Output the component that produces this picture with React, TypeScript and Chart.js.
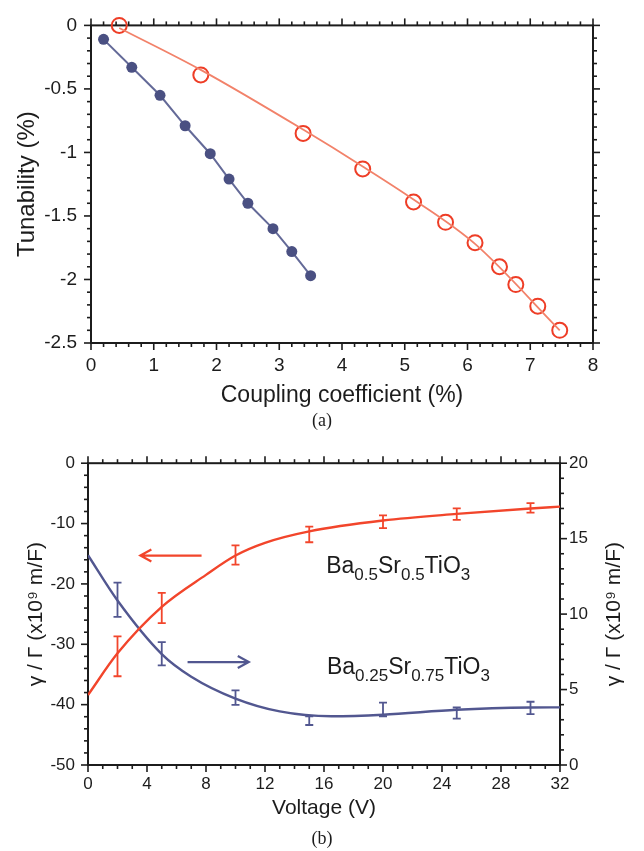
import React, { useEffect, useRef } from 'react';
import { Chart, registerables } from 'chart.js';

Chart.register(...registerables);

// ---------- Panel (a): Tunability vs coupling coefficient ----------
const blueCoupling = [0.2, 0.65, 1.1, 1.5, 1.9, 2.2, 2.5, 2.9, 3.2, 3.5];
const blueTunability = [-0.11, -0.33, -0.55, -0.79, -1.01, -1.21, -1.4, -1.6, -1.78, -1.97];
const redCoupling = [0.45, 1.75, 3.38, 4.33, 5.14, 5.65, 6.12, 6.51, 6.77, 7.12, 7.47];
const redTunability = [0, -0.39, -0.85, -1.13, -1.39, -1.55, -1.71, -1.9, -2.04, -2.21, -2.4];
const redFitCoupling = [0.45, 1.75, 3.38, 4.33, 5.14, 6.12, 7.47];
const redFitTunability = [-0.02, -0.35, -0.82, -1.11, -1.37, -1.72, -2.4];

// ---------- Panel (b): gamma/Gamma vs voltage ----------
const voltage = [2, 5, 10, 15, 20, 25, 30];
const bst50 = [-32.0, -24.0, -15.2, -11.8, -9.7, -8.45, -7.4];
const bst50Err = [3.3, 2.5, 1.6, 1.3, 1.05, 0.95, 0.8];
const bst25 = [10.95, 7.37, 4.46, 2.94, 3.68, 3.44, 3.78];
const bst25Err = [1.13, 0.77, 0.48, 0.29, 0.45, 0.37, 0.41];
const bst50FitV = [0, 2, 5, 8, 10, 12, 15, 20, 25, 30, 32];
const bst50Fit = [-38.4, -31.5, -23.8, -18.5, -15.3, -13.2, -11.3, -9.5, -8.4, -7.5, -7.2];
const bst25FitV = [0, 2, 5, 7, 10, 13, 16.5, 20, 25, 30, 32];
const bst25Fit = [13.9, 10.9, 7.35, 5.85, 4.4, 3.55, 3.23, 3.33, 3.66, 3.81, 3.82];

const FONT = "'Liberation Sans', Arial, Helvetica, sans-serif";
const INK = '#1c1c1c';
const RED_A = '#ee3d26';
const RED_A_LINE = '#f2826a';
const BLUE_A = '#4a5082';
const BLUE_A_LINE = '#646a98';
const RED_B = '#f2452b';
const BLUE_B = '#525790';
const Y_TITLE_B = 'γ / Γ (x10⁹ m/F)';

const pts = (xs: number[], ys: number[]) => xs.map((x, i) => ({ x, y: ys[i] }));
const fmt = (v: any) => String(+Number(v).toFixed(2));

type Side = 'bottom' | 'top' | 'left' | 'right';
type TickSpec = { scaleId: string; major: number; minor: number; sides: Side[] };

function framePlugin(specs: TickSpec[]) {
  return {
    id: 'frameTicks',
    beforeDatasetsDraw(chart: any) {
      const { ctx, chartArea: a } = chart;
      ctx.save();
      ctx.strokeStyle = INK;
      ctx.lineWidth = 2;
      ctx.strokeRect(a.left, a.top, a.right - a.left, a.bottom - a.top);
      ctx.lineWidth = 1.6;
      for (const s of specs) {
        const sc = chart.scales[s.scaleId];
        const n = Math.round((sc.max - sc.min) / s.minor);
        for (let i = 0; i <= n; i++) {
          const v = sc.min + i * s.minor;
          const r = v / s.major;
          const isMajor = Math.abs(r - Math.round(r)) < 1e-6;
          const len = isMajor ? 7 : 4;
          const p = sc.getPixelForValue(v);
          for (const side of s.sides) {
            ctx.beginPath();
            if (side === 'bottom') { ctx.moveTo(p, a.bottom); ctx.lineTo(p, a.bottom + len); }
            if (side === 'top') { ctx.moveTo(p, a.top); ctx.lineTo(p, a.top - len); }
            if (side === 'left') { ctx.moveTo(a.left, p); ctx.lineTo(a.left - len, p); }
            if (side === 'right') { ctx.moveTo(a.right, p); ctx.lineTo(a.right + len, p); }
            ctx.stroke();
          }
        }
      }
      ctx.restore();
    },
  };
}

type ErrSeries = { xs: number[]; ys: number[]; errs: number[]; yId: string; color: string };

function errorBarPlugin(series: ErrSeries[]) {
  return {
    id: 'errorBars',
    afterDatasetsDraw(chart: any) {
      const { ctx } = chart;
      const xs = chart.scales.x;
      ctx.save();
      for (const s of series) {
        const ys = chart.scales[s.yId];
        ctx.strokeStyle = s.color;
        ctx.lineWidth = 1.8;
        s.xs.forEach((xv, i) => {
          const px = xs.getPixelForValue(xv);
          const top = ys.getPixelForValue(s.ys[i] + s.errs[i]);
          const bot = ys.getPixelForValue(s.ys[i] - s.errs[i]);
          ctx.beginPath();
          ctx.moveTo(px, top); ctx.lineTo(px, bot);
          ctx.moveTo(px - 4, top); ctx.lineTo(px + 4, top);
          ctx.moveTo(px - 4, bot); ctx.lineTo(px + 4, bot);
          ctx.stroke();
        });
      }
      ctx.restore();
    },
  };
}

type Seg = { t: string; sub?: boolean };
const formula50: Seg[] = [{ t: 'Ba' }, { t: '0.5', sub: true }, { t: 'Sr' }, { t: '0.5', sub: true }, { t: 'TiO' }, { t: '3', sub: true }];
const formula25: Seg[] = [{ t: 'Ba' }, { t: '0.25', sub: true }, { t: 'Sr' }, { t: '0.75', sub: true }, { t: 'TiO' }, { t: '3', sub: true }];

function annotationPlugin() {
  return {
    id: 'annotationsB',
    afterDraw(chart: any) {
      const { ctx, chartArea: a } = chart;
      const x = chart.scales.x;
      const y = chart.scales.y;
      const y2 = chart.scales.y2;
      ctx.save();
      const arrow = (x0: number, y0: number, x1: number, y1: number, color: string) => {
        ctx.strokeStyle = color;
        ctx.lineWidth = 2.2;
        ctx.beginPath();
        ctx.moveTo(x0, y0); ctx.lineTo(x1, y1);
        const dir = Math.sign(x1 - x0);
        ctx.moveTo(x1 - dir * 11, y1 - 6); ctx.lineTo(x1, y1); ctx.lineTo(x1 - dir * 11, y1 + 6);
        ctx.stroke();
      };
      arrow(x.getPixelForValue(7.7), y.getPixelForValue(-15.3), x.getPixelForValue(3.55), y.getPixelForValue(-15.3), RED_B);
      arrow(x.getPixelForValue(6.75), y2.getPixelForValue(6.82), x.getPixelForValue(10.9), y2.getPixelForValue(6.82), BLUE_B);
      const drawFormula = (segs: Seg[], px: number, py: number) => {
        let cx = px;
        ctx.fillStyle = INK;
        ctx.textBaseline = 'alphabetic';
        ctx.textAlign = 'left';
        for (const s of segs) {
          ctx.font = s.sub ? `17px ${FONT}` : `23px ${FONT}`;
          ctx.fillText(s.t, cx, s.sub ? py + 7 : py);
          cx += ctx.measureText(s.t).width;
        }
      };
      drawFormula(formula50, x.getPixelForValue(16.15), y.getPixelForValue(-18.2));
      drawFormula(formula25, x.getPixelForValue(16.2), y.getPixelForValue(-35.0));
      ctx.translate(614, (a.top + a.bottom) / 2);
      ctx.rotate(-Math.PI / 2);
      ctx.font = `21px ${FONT}`;
      ctx.textAlign = 'center';
      ctx.textBaseline = 'middle';
      ctx.fillStyle = INK;
      ctx.fillText(Y_TITLE_B, 0, 0);
      ctx.restore();
    },
  };
}

function PanelA() {
  const ref = useRef<HTMLCanvasElement>(null);
  useEffect(() => {
    const chart = new Chart(ref.current!, {
      type: 'scatter',
      data: {
        datasets: [
          {
            data: pts(redFitCoupling, redFitTunability),
            showLine: true,
            borderColor: RED_A_LINE,
            borderWidth: 1.8,
            pointRadius: 0,
            cubicInterpolationMode: 'monotone',
          } as any,
          {
            data: pts(blueCoupling, blueTunability),
            showLine: true,
            borderColor: BLUE_A_LINE,
            borderWidth: 2,
            pointRadius: 5.5,
            pointBackgroundColor: BLUE_A,
            pointBorderColor: BLUE_A,
            pointBorderWidth: 0,
            clip: false,
          } as any,
          {
            data: pts(redCoupling, redTunability),
            showLine: false,
            pointRadius: 7.5,
            pointBackgroundColor: 'rgba(255,255,255,0)',
            pointBorderColor: RED_A,
            pointBorderWidth: 2,
            clip: false,
          } as any,
        ],
      },
      options: {
        animation: false,
        responsive: false,
        maintainAspectRatio: false,
        layout: { padding: { top: 14, right: 51, bottom: 0, left: 0 } },
        plugins: { legend: { display: false }, tooltip: { enabled: false } },
        scales: {
          x: {
            type: 'linear',
            min: 0,
            max: 8,
            afterFit: (s: any) => { s.height = 97; },
            grid: { display: false, drawTicks: false },
            border: { display: false },
            ticks: { stepSize: 1, padding: 11, maxRotation: 0, color: INK, font: { family: FONT, size: 19 }, callback: fmt },
            title: { display: true, text: 'Coupling coefficient (%)', color: INK, font: { family: FONT, size: 23 }, padding: { top: 0, bottom: 31 } },
          },
          y: {
            type: 'linear',
            min: -2.5,
            max: 0,
            afterFit: (s: any) => { s.width = 91; },
            grid: { display: false, drawTicks: false },
            border: { display: false },
            ticks: { stepSize: 0.5, padding: 14, color: INK, font: { family: FONT, size: 19 }, callback: fmt },
            title: { display: true, text: 'Tunability (%)', color: INK, font: { family: FONT, size: 24 }, padding: { top: 12.6, bottom: 0 } },
          },
        },
      },
      plugins: [
        framePlugin([
          { scaleId: 'x', major: 1, minor: 0.2, sides: ['bottom', 'top'] },
          { scaleId: 'y', major: 0.5, minor: 0.1, sides: ['left', 'right'] },
        ]),
      ],
    });
    return () => chart.destroy();
  }, []);
  return <canvas ref={ref} width={644} height={440} style={{ position: 'absolute', left: 0, top: 0, width: 644, height: 440 }} />;
}

function PanelB() {
  const ref = useRef<HTMLCanvasElement>(null);
  useEffect(() => {
    const chart = new Chart(ref.current!, {
      type: 'scatter',
      data: {
        datasets: [
          {
            data: pts(bst50FitV, bst50Fit),
            yAxisID: 'y',
            showLine: true,
            borderColor: RED_B,
            borderWidth: 2.4,
            pointRadius: 0,
            cubicInterpolationMode: 'monotone',
          } as any,
          {
            data: pts(bst25FitV, bst25Fit),
            yAxisID: 'y2',
            showLine: true,
            borderColor: BLUE_B,
            borderWidth: 2.4,
            pointRadius: 0,
            cubicInterpolationMode: 'monotone',
          } as any,
          { data: pts(voltage, bst50), yAxisID: 'y', showLine: false, pointRadius: 0 },
          { data: pts(voltage, bst25), yAxisID: 'y2', showLine: false, pointRadius: 0 },
        ],
      },
      options: {
        animation: false,
        responsive: false,
        maintainAspectRatio: false,
        layout: { padding: { top: 15, right: 0, bottom: 0, left: 0 } },
        plugins: { legend: { display: false }, tooltip: { enabled: false } },
        scales: {
          x: {
            type: 'linear',
            min: 0,
            max: 32,
            afterFit: (s: any) => { s.height = 86; },
            grid: { display: false, drawTicks: false },
            border: { display: false },
            ticks: { stepSize: 4, padding: 9, maxRotation: 0, color: INK, font: { family: FONT, size: 17 } },
            title: { display: true, text: 'Voltage (V)', color: INK, font: { family: FONT, size: 21 }, padding: { top: 0, bottom: 30 } },
          },
          y: {
            type: 'linear',
            position: 'left',
            min: -50,
            max: 0,
            afterFit: (s: any) => { s.width = 88; },
            grid: { display: false, drawTicks: false },
            border: { display: false },
            ticks: { stepSize: 10, padding: 13, color: INK, font: { family: FONT, size: 17 } },
            title: { display: true, text: Y_TITLE_B, color: INK, font: { family: FONT, size: 21 }, padding: { top: 24, bottom: 0 } },
          },
          y2: {
            type: 'linear',
            position: 'right',
            min: 0,
            max: 20,
            afterFit: (s: any) => { s.width = 84; },
            grid: { display: false, drawTicks: false },
            border: { display: false },
            ticks: { stepSize: 5, padding: 9, color: INK, font: { family: FONT, size: 17 } },
          },
        },
      },
      plugins: [
        framePlugin([
          { scaleId: 'x', major: 4, minor: 1, sides: ['bottom', 'top'] },
          { scaleId: 'y', major: 10, minor: 2, sides: ['left'] },
          { scaleId: 'y2', major: 5, minor: 1, sides: ['right'] },
        ]),
        errorBarPlugin([
          { xs: voltage, ys: bst50, errs: bst50Err, yId: 'y', color: RED_B },
          { xs: voltage, ys: bst25, errs: bst25Err, yId: 'y2', color: BLUE_B },
        ]),
        annotationPlugin(),
      ],
    });
    return () => chart.destroy();
  }, []);
  return <canvas ref={ref} width={644} height={411} style={{ position: 'absolute', left: 0, top: 440, width: 644, height: 411 }} />;
}

const captionStyle: React.CSSProperties = {
  position: 'absolute',
  left: 0,
  width: 644,
  textAlign: 'center',
  fontFamily: "'Liberation Serif', 'Times New Roman', serif",
  fontSize: 18,
  color: INK,
  lineHeight: '20px',
};

export default function App() {
  return (
    <div style={{ position: 'absolute', left: 0, top: 0, width: 644, height: 851, background: '#fff', overflow: 'hidden' }}>
      <PanelA />
      <PanelB />
      <div style={{ ...captionStyle, top: 410 }}>(a)</div>
      <div style={{ ...captionStyle, top: 828 }}>(b)</div>
    </div>
  );
}
